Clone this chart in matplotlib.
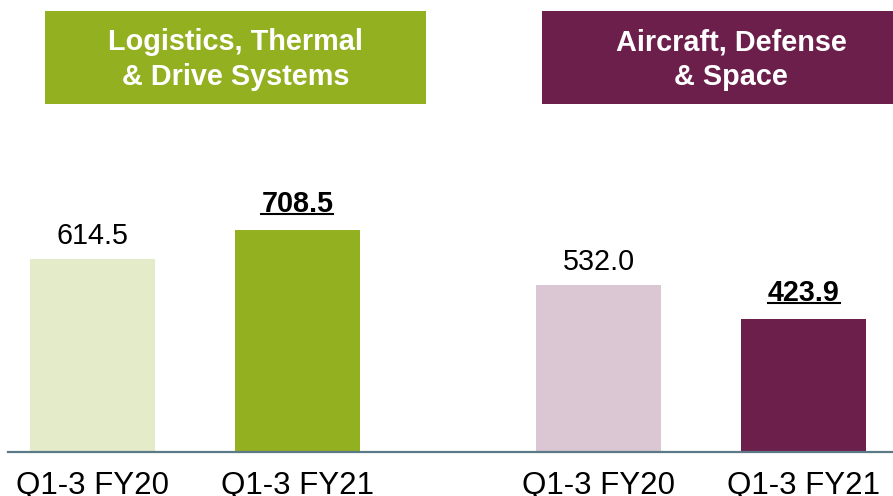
"""
Q1-3 sales by segment, FY20 vs FY21, with segment header boxes.
"""

import numpy as np
import matplotlib as mpl
from matplotlib import pyplot as plt
from matplotlib.patches import Rectangle
from matplotlib.lines import Line2D

# INPUT -----------------------
segments    = ['Logistics, Thermal\n& Drive Systems', 'Aircraft, Defense\n& Space']
categories  = ['Q1-3 FY20', 'Q1-3 FY21', 'Q1-3 FY20', 'Q1-3 FY21']
values      = [614.5, 708.5, 532.0, 423.9]
labels      = ['614.5', '708.5', '532.0', '423.9']
highlight   = [False, True, False, True]   # bold + underlined value labels
# -----------------------------

# define stuff
W, H       = 893, 496
dpi        = 100
bar_colors = ['#e3ebc9', '#93b021', '#dbc6d3', '#6c1f4b']
head_cols  = ['#93b021', '#6c1f4b']
axis_col   = '#5b7987'
pos        = np.array([0.0, 1.0, 2.47, 3.47])

mpl.rcParams['font.family'] = ['Liberation Sans', 'DejaVu Sans']

fig = plt.figure(figsize=(W/dpi, H/dpi), dpi=dpi)

# axes: bottom spine is the baseline at y=451.5 px
base_px = 451.5
ax = fig.add_axes([8/W, (H-base_px)/H, 1-8/W, base_px/H])
ax.bar(pos, values, width=0.61, color=bar_colors)
ax.set_xlim([-0.412, 3.905])
ax.set_ylim([0, base_px/0.313])

for s in ['top', 'right', 'left']:
    ax.spines[s].set_visible(False)
ax.spines['bottom'].set_color(axis_col)
ax.spines['bottom'].set_linewidth(1.6)
ax.set_yticks([])
ax.set_xticks(pos)
ax.set_xticklabels(categories, fontsize=22.5)
ax.tick_params(axis='x', length=0, pad=14)

# value labels
hl_texts = []
for x, v, lab, hl in zip(pos, values, labels, highlight):
    t = ax.annotate(lab, (x, v), xytext=(0, 13 if hl else 11),
                    textcoords='offset points', ha='center', va='baseline',
                    fontsize=20.7, fontweight='bold' if hl else 'normal')
    if hl: hl_texts.append(t)

# segment header boxes (figure pixel coords)
boxes = [(45, 11, 381, 93), (542, 11, 360, 93)]
tx    = [235.5, 731]
for (bx, by, bw, bh), col, name, t in zip(boxes, head_cols, segments, tx):
    fig.patches.append(Rectangle((bx/W, 1-(by+bh)/H), bw/W, bh/H,
                                 transform=fig.transFigure, color=col, lw=0))
    fig.text(t/W, 1-59.5/H, name, ha='center', va='center', color='white',
             fontsize=20.8, fontweight='bold', linespacing=1.3)

# underline the highlighted labels
fig.canvas.draw()
for t in hl_texts:
    bb = t.get_window_extent()
    yb = bb.y0 + 0.225*20.7*dpi/72 - 3.0
    fig.lines.append(Line2D([bb.x0/W, bb.x1/W], [yb/H, yb/H], transform=fig.transFigure,
                            color='black', lw=1.5))

plt.savefig('out.png', dpi=dpi)
